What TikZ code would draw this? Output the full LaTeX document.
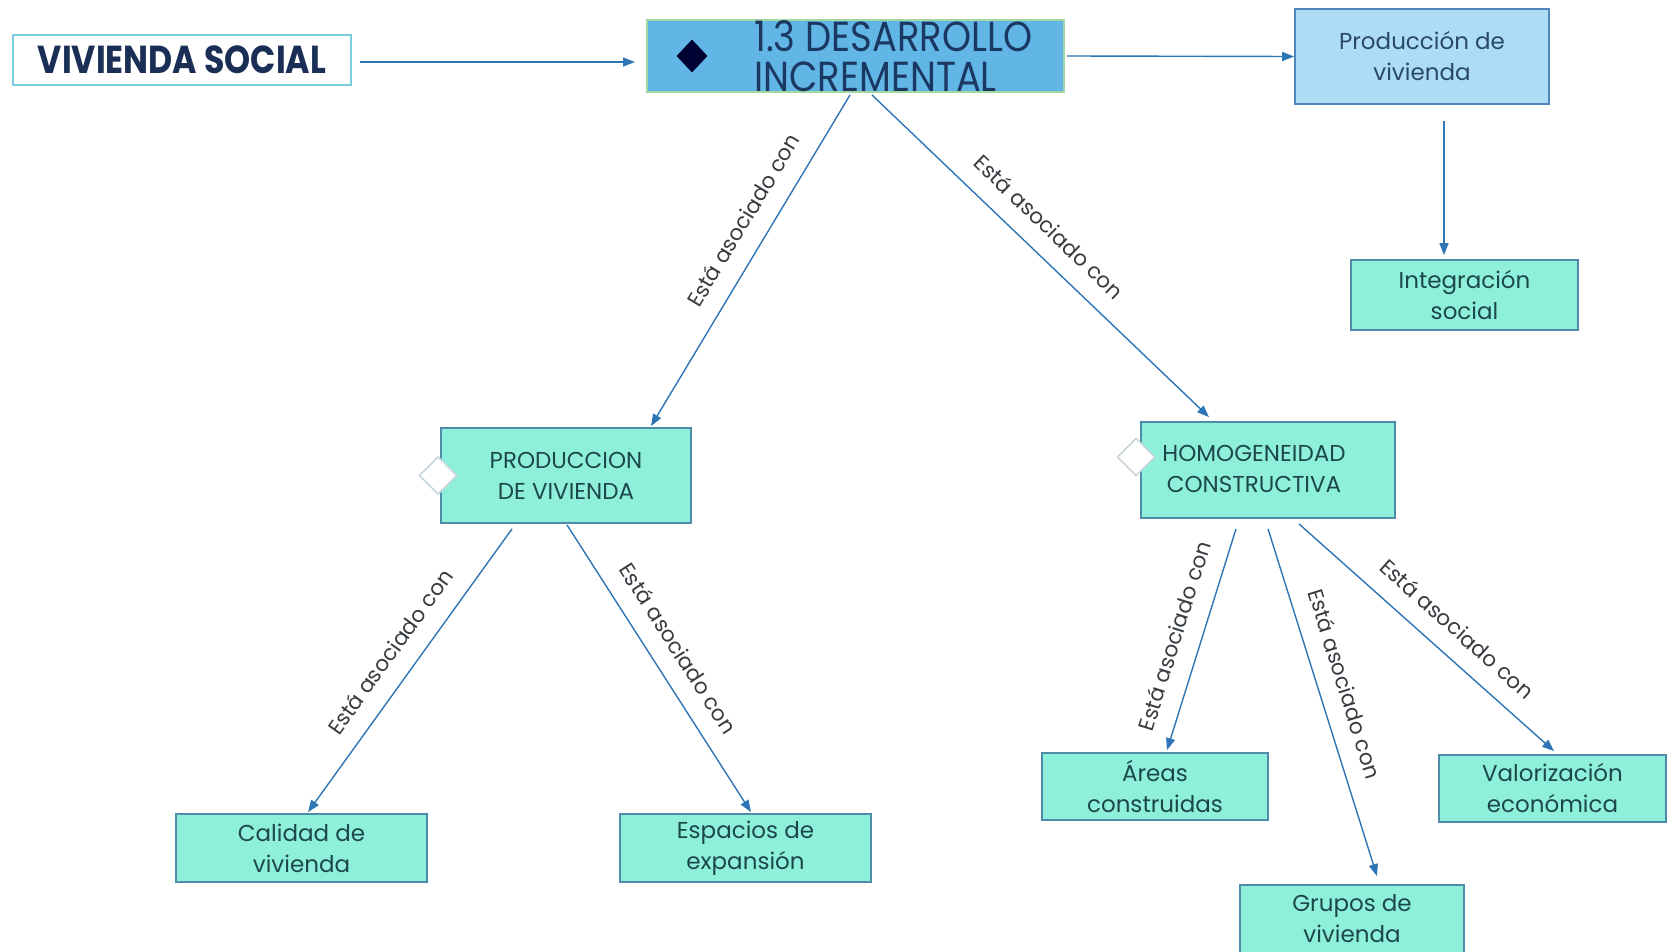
\documentclass[tikz,border=0pt]{standalone}
\usepackage{fontspec}
\setmainfont{Poppins}
\newfontfamily\condfont[FakeStretch=0.88]{Poppins}
\newfontfamily\vsfont[FakeStretch=0.85]{Poppins}
\usetikzlibrary{arrows.meta,shapes.geometric,calc}
\definecolor{tealfill}{RGB}{142,240,219}
\definecolor{tealline}{RGB}{78,140,170}
\definecolor{tealtext}{RGB}{28,72,74}
\definecolor{desfill}{RGB}{98,182,230}
\definecolor{desline}{RGB}{160,215,165}
\definecolor{destext}{RGB}{27,56,99}
\definecolor{pvfill}{RGB}{172,221,245}
\definecolor{pvline}{RGB}{80,134,190}
\definecolor{pvtext}{RGB}{43,72,108}
\definecolor{vsline}{RGB}{122,205,222}
\definecolor{vstext}{RGB}{26,46,86}
\definecolor{arrowc}{RGB}{46,117,182}
\definecolor{labtext}{RGB}{55,60,65}
\definecolor{diagray}{RGB}{200,214,220}
\tikzset{
  box/.style={draw=tealline, line width=1.8pt, fill=tealfill, text=tealtext, align=center, inner sep=0pt,
    font=\fontsize{23}{31}\selectfont},
  conn/.style={draw=arrowc, line width=1.4pt, -{Triangle[length=12pt,width=9pt]}},
  lab/.style={sloped, above=18pt, font=\fontsize{21.5}{22}\selectfont, text=labtext, inner sep=0pt},
  wdia/.style={diamond, draw=diagray, fill=white, line width=1.6pt, minimum width=38pt, minimum height=38pt, inner sep=0pt},
}
\begin{document}
\begin{tikzpicture}[x=1pt,y=-1pt]
\useasboundingbox (0,0) rectangle (1667,952);
% nodes
\node[draw=vsline, line width=2.4pt, fill=white, minimum width=338pt, minimum height=50pt, inner sep=0pt,
  text=vstext, font=\vsfont\bfseries\fontsize{39}{39}\selectfont] (vs) at (182,60) {VIVIENDA SOCIAL};
\node[draw=desline, line width=2pt, fill=desfill, minimum width=417pt, minimum height=72pt, inner sep=0pt] (des) at (855.5,56) {};
\node[diamond, fill=black!80!blue, minimum width=31pt, minimum height=33pt, inner sep=0pt] (bdia) at (692,56) {};
\node[anchor=west, align=left, inner sep=0pt, text=destext, font=\condfont\fontsize{42}{40}\selectfont] (dest) at (754,56) {1.3 DESARROLLO\\INCREMENTAL};
\node[draw=pvline, line width=1.8pt, fill=pvfill, text=pvtext, align=center, inner sep=0pt,
  minimum width=254pt, minimum height=95pt, font=\fontsize{23}{31}\selectfont] (pv) at (1422,56.5) {Producción de\\vivienda};
\node[box, minimum width=227pt, minimum height=70pt] (is) at (1464.5,295) {Integración\\social};
\node[box, minimum width=250pt, minimum height=95pt] (prod) at (566,475.5) {PRODUCCION\\DE VIVIENDA};
\node[box, minimum width=254pt, minimum height=96pt] (hom) at (1268,470) {};
\node[align=center, inner sep=0pt, text=tealtext, font=\fontsize{23}{31}\selectfont] (homt) at (1254,469) {HOMOGENEIDAD\\CONSTRUCTIVA};
\node[wdia] (d1) at ($(prod.west)+(-2,0)$) {};
\node[wdia] (d2) at ($(hom.west)+(-4,-13)$) {};
\node[box, minimum width=251pt, minimum height=68pt] (cal) at (301.5,848) {Calidad de\\vivienda};
\node[box, minimum width=251pt, minimum height=68pt] (esp) at (745.5,848) {Espacios de\\expansión};
\node[box, minimum width=226pt, minimum height=67pt] (are) at (1155,786.5) {Áreas\\construidas};
\node[box, minimum width=224pt, minimum height=68pt] (gru) at (1352,919) {Grupos de\\vivienda};
\node[box, minimum width=227pt, minimum height=67pt] (val) at (1552.5,788.5) {Valorización\\económica};
% connectors
\draw[conn] ($(vs.east)+(8,2)$) -- ($(des.west)+(-11,6)$);
\draw[conn] ($(des.east)+(2,0)$) -- (pv.west);
\draw[conn] ($(pv.south)+(22,16)$) -- ($(is.north)+(-20.5,-4)$);
\draw[conn] ($(des.south)+(-5.5,2)$) -- node[lab, pos=0.42] {Está asociado con} ($(prod.north)+(85,-1)$);
\draw[conn] ($(des.south)+(16.5,2)$) -- node[lab, pos=0.47] {Está asociado con} ($(hom.north)+(-59,-4)$);
\draw[conn] ($(prod.south)+(-54,5)$) -- node[lab, pos=0.49] {Está asociado con} ($(cal.north)+(6.5,-1)$);
\draw[conn] ($(prod.south)+(1,1)$) -- node[lab, pos=0.48] {Está asociado con} ($(esp.north)+(5.5,-1)$);
\draw[conn] ($(hom.south)+(-32,10)$) -- node[lab, pos=0.52] {Está asociado con} ($(are.north)+(12,-2)$);
\draw[conn] ($(hom.south)+(0,10)$) -- node[lab, pos=0.47] {Está asociado con} ($(gru.north)+(25,-8)$);
\draw[conn] ($(hom.south)+(31,5)$) -- node[lab, pos=0.55] {Está asociado con} ($(val.north)+(1.5,-3)$);
\end{tikzpicture}
\end{document}
